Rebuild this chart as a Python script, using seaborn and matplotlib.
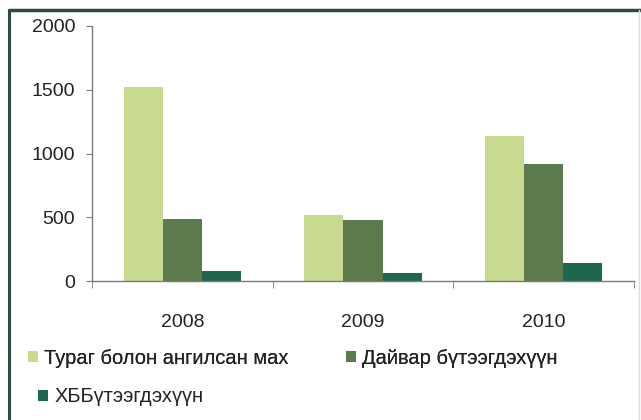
import matplotlib
matplotlib.use("Agg")
import matplotlib.pyplot as plt
import seaborn as sns
import pandas as pd
from matplotlib.lines import Line2D
from matplotlib.ticker import FixedLocator

years = ["2008", "2009", "2010"]
series_names = ["Тураг болон ангилсан мах", "Дайвар бүтээгдэхүүн", "ХББүтээгдэхүүн"]
meat = [1525, 520, 1135]
byproduct = [490, 475, 920]
hbb = [80, 60, 145]
colors = ["#c8da8f", "#5b7a4d", "#1f6650"]
y_ticks = [0, 500, 1000, 1500, 2000]

rows = []
for name, vals in zip(series_names, [meat, byproduct, hbb]):
    for y, v in zip(years, vals):
        rows.append({"year": y, "series": name, "value": v})
df = pd.DataFrame(rows)

sns.set_style("white")
plt.rcParams["font.family"] = ["Liberation Sans", "DejaVu Sans"]

fig = plt.figure(figsize=(6.41, 4.20), dpi=100)
ax = fig.add_axes([92/641, 1-281/420, (634-92)/641, (281-26)/420])

sns.barplot(data=df, x="year", y="value", hue="series", order=years,
            hue_order=series_names, palette=colors, width=0.65, gap=0,
            saturation=1, linewidth=0, edgecolor="none", ax=ax, legend=True)

ax.set_ylim(0, 2000)
ax.set_xlim(-0.5, 2.5)
ax.set_yticks(y_ticks)
ax.set_xlabel("")
ax.set_ylabel("")
for s in ["top", "right"]:
    ax.spines[s].set_visible(False)
for s in ["left", "bottom"]:
    ax.spines[s].set_color("#7a7a7a")
    ax.spines[s].set_linewidth(1.0)
ax.tick_params(axis="y", which="major", direction="out", length=4, color="#7a7a7a",
               labelsize=14, labelcolor="#222222", pad=8, left=True)
ax.tick_params(axis="x", which="major", length=0, labelsize=14, labelcolor="#222222", pad=24)
ax.xaxis.set_minor_locator(FixedLocator([-0.5, 0.5, 1.5, 2.5]))
ax.tick_params(axis="x", which="minor", direction="out", length=5, color="#7a7a7a", bottom=True)

handles, labels = ax.get_legend_handles_labels()
ax.get_legend().remove()
leg_kw = dict(frameon=False, fontsize=14.5, handlelength=0.5, handleheight=0.5,
              handletextpad=0.3, borderaxespad=0, borderpad=0)
leg1 = fig.legend(handles[:2], labels[:2], ncol=2, loc="center left",
                  bbox_to_anchor=(28/641, 1-358/420), columnspacing=2.85, **leg_kw)
leg2 = fig.legend(handles[2:], labels[2:], loc="center left",
                  bbox_to_anchor=(38/641, 1-397/420), **leg_kw)
fig.add_artist(leg1)
for lg in (leg1, leg2):
    for t in lg.get_texts():
        t.set_color("#222222")

# outer frame
fig.add_artist(Line2D([9/641, 9/641], [0, 1-10/420], transform=fig.transFigure,
                      color="#2f4a3d", lw=2.2))
fig.add_artist(Line2D([9/641, 1], [1-10/420, 1-10/420], transform=fig.transFigure,
                      color="#2f4a3d", lw=2.5))
fig.add_artist(Line2D([639/641, 639/641], [0, 1-10/420], transform=fig.transFigure,
                      color="#d8e0dc", lw=1))

fig.savefig("out.png", dpi=100)
